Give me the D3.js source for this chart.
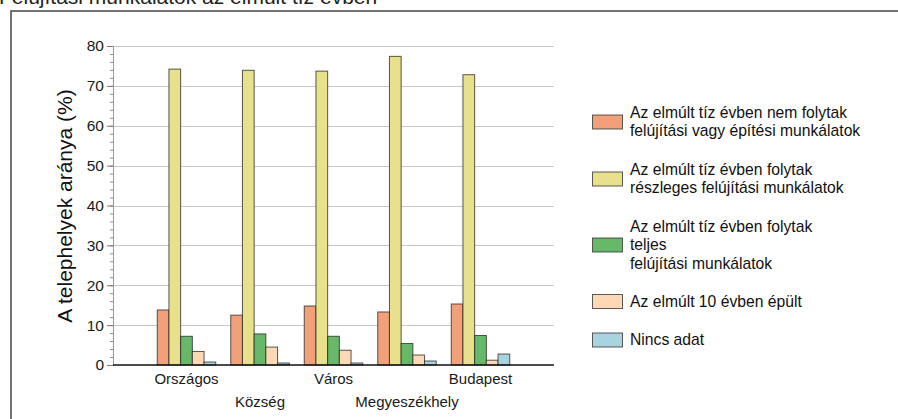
<!DOCTYPE html>
<html>
<head>
<meta charset="utf-8">
<script src="https://cdn.jsdelivr.net/npm/d3@7"></script>
<style>
body { margin: 0; background: #fff; }
svg { display: block; font-family: Arial, "Liberation Sans", sans-serif; }
</style>
</head>
<body>
<div id="chart"></div>
<script>
let width = 898,
	height = 419;

var categories = ["Országos", "Község", "Város", "Megyeszékhely", "Budapest"];
var seriesNames = [
	"Az elmúlt tíz évben nem folytak felújítási vagy építési munkálatok",
	"Az elmúlt tíz évben folytak részleges felújítási munkálatok",
	"Az elmúlt tíz évben folytak teljes felújítási munkálatok",
	"Az elmúlt 10 évben épült",
	"Nincs adat"
];
// legend lines, as wrapped in the original
var legendLines = [
	["Az elmúlt tíz évben nem folytak", "felújítási vagy építési munkálatok"],
	["Az elmúlt tíz évben folytak", "részleges felújítási munkálatok"],
	["Az elmúlt tíz évben folytak", "teljes", "felújítási munkálatok"],
	["Az elmúlt 10 évben épült"],
	["Nincs adat"]
];
var nemFolytak = [13.8, 12.5, 14.8, 13.3, 15.3];
var reszleges = [74.2, 73.9, 73.7, 77.4, 72.8];
var teljes = [7.2, 7.8, 7.2, 5.4, 7.4];
var epult = [3.4, 4.5, 3.7, 2.5, 1.2];
var nincsAdat = [0.75, 0.5, 0.5, 1.0, 2.75];
var yTicks = [0, 10, 20, 30, 40, 50, 60, 70, 80];
var colors = ["#f2a07a", "#e8e08a", "#68b86a", "#fcd8b4", "#a8d4e0"];

var seriesValues = [nemFolytak, reszleges, teljes, epult, nincsAdat];

var margin = {left: 113, right: 344, top: 46, bottom: 54};

var svg = d3.select("#chart")
	.append("svg")
	.attr("width", width)
	.attr("height", height);

// outer frame (runs off the picture at right and bottom)
svg.append("rect")
	.attr("x", 11)
	.attr("y", 11)
	.attr("width", 900)
	.attr("height", 420)
	.attr("fill", "none")
	.attr("stroke", "#444")
	.attr("stroke-width", 1.5);

// title, cut off at top
svg.append("text")
	.attr("x", -1)
	.attr("y", 4)
	.style("font-size", "21px")
	.style("fill", "#222")
	.text("Felújítási munkálatok az elmúlt tíz évben");

var x0 = d3.scaleBand()
	.domain(categories)
	.range([margin.left, width - margin.right])
	.paddingInner(0.204)
	.paddingOuter(0.602);

var x1 = d3.scaleBand()
	.domain(d3.range(seriesNames.length))
	.range([0, x0.bandwidth()])
	.padding(0);

var y = d3.scaleLinear()
	.domain([0, 80])
	.range([height - margin.bottom, margin.top]);

// gridlines
svg.append("g")
	.selectAll("line")
	.data(yTicks.filter(d => d > 0))
	.enter()
	.append("line")
	.attr("x1", margin.left)
	.attr("x2", width - margin.right)
	.attr("y1", d => Math.round(y(d)) + 0.5)
	.attr("y2", d => Math.round(y(d)) + 0.5)
	.attr("stroke", "#c8c8c8")
	.attr("stroke-width", 1.2);

// minor ticks
var minor = svg.append("g")
	.attr("transform", "translate(" + margin.left + ",0)")
	.call(d3.axisLeft(y).tickValues(d3.range(0, 81, 2)).tickSize(3).tickFormat(""));
minor.select(".domain").remove();
minor.selectAll("line").attr("stroke", "#888");

// y axis
var yAxis = svg.append("g")
	.attr("transform", "translate(" + margin.left + ",0)")
	.call(d3.axisLeft(y).tickValues(yTicks).tickSize(6).tickPadding(3));
yAxis.select(".domain").attr("stroke", "#999");
yAxis.selectAll(".tick line").attr("stroke", "#777");
yAxis.selectAll("text")
	.style("font-size", "15.5px")
	.style("fill", "#1a1a1a")
	.style("font-family", "Arial, 'Liberation Sans', sans-serif");

// bars
var groups = svg.append("g")
	.selectAll("g")
	.data(categories)
	.enter()
	.append("g")
	.attr("transform", d => "translate(" + x0(d) + ",0)");

groups.selectAll("rect")
	.data((d, i) => seriesValues.map((s, j) => ({series: j, value: s[i]})))
	.enter()
	.append("rect")
	.attr("x", d => x1(d.series))
	.attr("width", x1.bandwidth())
	.attr("y", d => y(d.value))
	.attr("height", d => y(0) - y(d.value))
	.attr("fill", d => colors[d.series])
	.attr("stroke", "#222")
	.attr("stroke-opacity", 0.75)
	.attr("stroke-width", 1);

// x baseline
svg.append("line")
	.attr("x1", margin.left)
	.attr("x2", width - margin.right)
	.attr("y1", y(0))
	.attr("y2", y(0))
	.attr("stroke", "#111")
	.attr("stroke-width", 1.5);

// staggered x labels
svg.append("g")
	.selectAll("text")
	.data(categories)
	.enter()
	.append("text")
	.attr("x", d => x0(d) + x0.bandwidth() / 2)
	.attr("y", (d, i) => i % 2 == 0 ? 384 : 407)
	.attr("text-anchor", "middle")
	.style("font-size", "15px")
	.style("fill", "#1a1a1a")
	.text(d => d);

// y label
svg.append("text")
	.attr("transform", "translate(72," + 206 + ") rotate(-90)")
	.attr("text-anchor", "middle")
	.style("font-size", "21px")
	.style("fill", "#111")
	.text("A telephelyek aránya (%)");

// legend
var legendY = [121.5, 178.5, 244.5, 301, 339.5];
var lineH = 18.5;
var legend = svg.append("g")
	.selectAll("g")
	.data(seriesNames)
	.enter()
	.append("g")
	.attr("transform", (d, i) => "translate(592," + legendY[i] + ")");

legend.append("rect")
	.attr("x", 0.5)
	.attr("y", -6.5)
	.attr("width", 30)
	.attr("height", 14)
	.attr("fill", (d, i) => colors[i])
	.attr("stroke", "#333")
	.attr("stroke-opacity", 0.8);

legend.append("text")
	.attr("x", 38)
	.style("font-size", "15.7px")
	.style("fill", "#111")
	.each(function(d, i) {
		var lines = legendLines[i];
		var t = d3.select(this);
		lines.forEach((l, k) => {
			t.append("tspan")
				.attr("x", 38)
				.attr("y", (k - (lines.length - 1) / 2) * lineH + 5.5)
				.text(l);
		});
	});
</script>
</body>
</html>
